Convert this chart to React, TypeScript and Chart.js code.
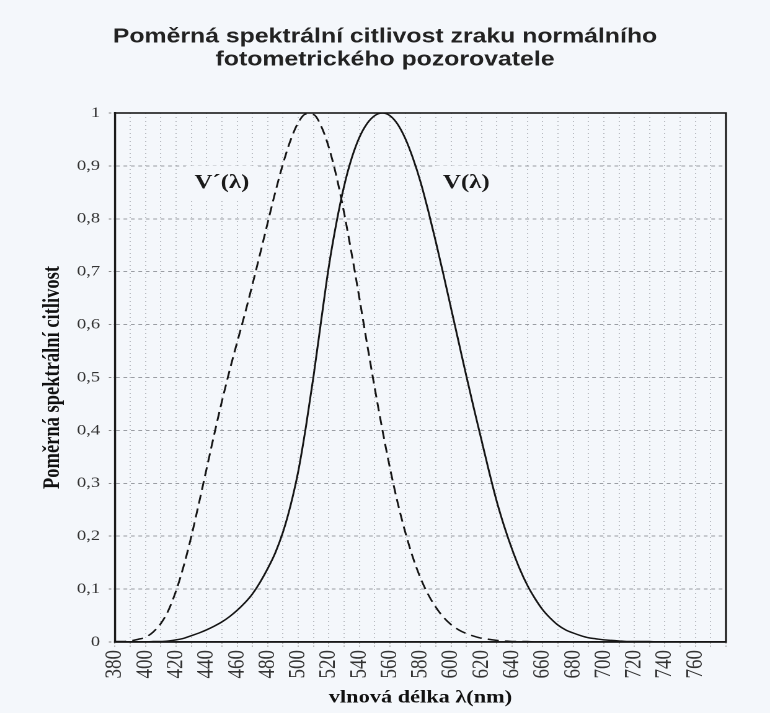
import React, { useEffect, useRef } from 'react';
import { Chart, registerables } from 'chart.js';

Chart.register(...registerables);

// ---- data ----
const titleLines = ['Poměrná spektrální citlivost zraku normálního', 'fotometrického pozorovatele'];
const yAxisTitle = 'Poměrná spektrální citlivost';
const xAxisTitle = 'vlnová délka λ(nm)';
const curveLabels = ['V´(λ)', 'V(λ)'];
const curveLabelPos = [
  { x: 450, y: 0.868 },
  { x: 610, y: 0.868 },
];

const wavelengths = [
  380, 385, 390, 395, 400, 405, 410, 415, 420, 425, 430, 435, 440, 445, 450, 455, 460, 465, 470, 475,
  480, 485, 490, 495, 500, 505, 510, 515, 520, 525, 530, 535, 540, 545, 550, 555, 560, 565, 570, 575,
  580, 585, 590, 595, 600, 605, 610, 615, 620, 625, 630, 635, 640, 645, 650, 655, 660, 665, 670, 675,
  680, 685, 690, 695, 700, 705, 710, 715, 720, 725, 730, 735, 740, 745, 750, 755, 760, 765, 770, 775, 780,
];

// V(λ) – photopic (solid)
const photopicV = [
  0.0, 0.0, 0.0, 0.0, 0.0, 0.001, 0.001, 0.002, 0.004, 0.007, 0.012, 0.017, 0.023, 0.03, 0.038, 0.048, 0.06, 0.074, 0.091, 0.113,
  0.139, 0.169, 0.208, 0.259, 0.323, 0.407, 0.503, 0.608, 0.71, 0.793, 0.862, 0.915, 0.954, 0.98, 0.995, 1.0, 0.995, 0.979, 0.952, 0.915,
  0.87, 0.816, 0.757, 0.695, 0.631, 0.567, 0.503, 0.441, 0.381, 0.321, 0.265, 0.217, 0.175, 0.138, 0.107, 0.082, 0.061, 0.045, 0.032, 0.023,
  0.017, 0.012, 0.008, 0.006, 0.004, 0.003, 0.002, 0.001, 0.001, 0.001, 0.001, 0.0, 0.0, 0.0, 0.0, 0.0, 0.0, 0.0, 0.0, 0.0, 0.0,
];

// V´(λ) – scotopic (dashed)
const scotopicV = [
  0.001, 0.001, 0.002, 0.005, 0.009, 0.019, 0.035, 0.06, 0.097, 0.144, 0.2, 0.263, 0.328, 0.393, 0.455, 0.513, 0.567, 0.62, 0.676, 0.734,
  0.793, 0.851, 0.904, 0.949, 0.982, 0.998, 0.997, 0.975, 0.935, 0.88, 0.811, 0.733, 0.65, 0.564, 0.481, 0.402, 0.329, 0.264, 0.208, 0.16,
  0.121, 0.09, 0.066, 0.047, 0.033, 0.023, 0.016, 0.011, 0.007, 0.005, 0.003, 0.002, 0.001, 0.001, 0.001, 0.0, 0.0, 0.0, 0.0, 0.0,
  0.0, 0.0, 0.0, 0.0, 0.0, 0.0, 0.0, 0.0, 0.0, 0.0, 0.0, 0.0, 0.0, 0.0, 0.0, 0.0, 0.0, 0.0, 0.0, 0.0, 0.0,
];

const xMin = 380;
const xMax = 780;
const xLabelStep = 20;

// The scanned original is stretched horizontally; the canvas is drawn narrower and shown at full width.
const STRETCH = 1.24;
const VIEW_W = 770;
const VIEW_H = 713;
const CANVAS_W = Math.round(VIEW_W / STRETCH);

const BG = '#f4f7fb';
const SERIF = '"Liberation Serif", "Times New Roman", serif';
const SANS = '"Liberation Sans", Arial, sans-serif';

export default function App() {
  const ref = useRef<HTMLCanvasElement>(null);

  useEffect(() => {
    if (!ref.current) return;

    const bgPlugin = {
      id: 'bgFill',
      beforeDraw(chart: any) {
        const { ctx, width, height } = chart;
        ctx.save();
        ctx.fillStyle = BG;
        ctx.fillRect(0, 0, width, height);
        ctx.restore();
      },
    };

    const framePlugin = {
      id: 'frameAndLabels',
      beforeDatasetsDraw(chart: any) {
        const { ctx, chartArea, scales } = chart;
        ctx.save();
        ctx.font = `bold 20px ${SERIF}`;
        ctx.textAlign = 'center';
        ctx.textBaseline = 'middle';
        curveLabels.forEach((txt, i) => {
          const cx = scales.x.getPixelForValue(curveLabelPos[i].x);
          const cy = scales.y.getPixelForValue(curveLabelPos[i].y);
          const w = ctx.measureText(txt).width + 14;
          ctx.fillStyle = BG;
          ctx.fillRect(cx - w / 2, cy - 17, w, 35);
          ctx.fillStyle = '#1a1a1a';
          ctx.fillText(txt, cx, cy);
        });
        ctx.strokeStyle = '#1a1a1a';
        ctx.lineWidth = 1.6;
        ctx.strokeRect(chartArea.left, chartArea.top, chartArea.right - chartArea.left, chartArea.bottom - chartArea.top);
        ctx.restore();
      },
    };

    const plotLeft = 115 / STRETCH;
    const plotRight = 726 / STRETCH;

    const chart = new Chart(ref.current, {
      type: 'line',
      data: {
        datasets: [
          {
            label: 'V(λ)',
            data: wavelengths.map((w, i) => ({ x: w, y: photopicV[i] })),
            borderColor: '#151515',
            borderWidth: 1.5,
            pointRadius: 0,
            cubicInterpolationMode: 'monotone',
            fill: false,
          },
          {
            label: 'V´(λ)',
            data: wavelengths.map((w, i) => ({ x: w, y: scotopicV[i] })),
            borderColor: '#151515',
            borderWidth: 1.5,
            borderDash: [9, 5],
            pointRadius: 0,
            cubicInterpolationMode: 'monotone',
            fill: false,
          },
        ],
      },
      options: {
        responsive: false,
        animation: false,
        devicePixelRatio: 2,
        layout: { padding: 0 },
        plugins: {
          legend: { display: false },
          tooltip: { enabled: false },
          title: {
            display: true,
            text: titleLines,
            color: '#222',
            font: { family: SANS, size: 20, weight: 'bold', lineHeight: 1.15 },
            padding: { top: 25.5, bottom: 41.5 },
          },
        },
        scales: {
          x: {
            type: 'linear',
            min: xMin,
            max: xMax,
            afterFit(scale: any) {
              scale.height = 71;
            },
            ticks: {
              stepSize: 10,
              autoSkip: false,
              minRotation: 90,
              maxRotation: 90,
              padding: 3,
              color: '#333',
              font: { family: SERIF, size: 19 },
              callback: (v: any) => (v % xLabelStep === 0 && v !== xMax ? String(v) : ''),
            },
            grid: {
              color: '#b9bcc2',
              lineWidth: 1,
              tickLength: 5,
              tickColor: '#999',
              tickBorderDash: [1, 2],
            },
            border: { display: true, color: '#1a1a1a', width: 1.6, dash: [1, 3] },
            title: {
              display: true,
              text: xAxisTitle,
              color: '#111',
              font: { family: SERIF, size: 18, weight: 'bold', lineHeight: 1 },
              padding: { top: 0, bottom: 6 },
            },
          },
          y: {
            type: 'linear',
            min: 0,
            max: 1,
            afterFit(scale: any) {
              scale.width = plotLeft;
            },
            ticks: {
              stepSize: 0.1,
              padding: 7,
              color: '#333',
              font: { family: SERIF, size: 15 },
              callback: (v: any) => {
                const r = Math.round(v * 10) / 10;
                if (r === 0) return '0';
                if (r === 1) return '1';
                return r.toFixed(1).replace('.', ',');
              },
            },
            grid: {
              color: '#9a9da3',
              lineWidth: 1,
              tickLength: 5,
              tickColor: '#888',
              tickBorderDash: [2, 2],
            },
            border: { display: true, color: '#1a1a1a', width: 1.6, dash: [3, 3] },
            title: {
              display: true,
              text: yAxisTitle,
              color: '#111',
              font: { family: SERIF, size: 18.5, weight: 'bold', lineHeight: 1 },
              padding: { top: 53 / STRETCH - 9.25, bottom: 0 },
            },
          },
          // empty right-hand spacer axis so the title stays centred on the whole canvas
          yRight: {
            type: 'linear',
            position: 'right',
            display: true,
            min: 0,
            max: 1,
            afterFit(scale: any) {
              scale.width = CANVAS_W - plotRight;
            },
            ticks: { display: false },
            grid: { display: false, drawOnChartArea: false },
            border: { display: false },
            title: { display: false },
          },
        },
      },
      plugins: [bgPlugin, framePlugin],
    } as any);

    return () => chart.destroy();
  }, []);

  return (
    <div style={{ position: 'absolute', left: 0, top: 0, width: VIEW_W, height: VIEW_H, background: BG }}>
      <canvas
        ref={ref}
        width={CANVAS_W}
        height={VIEW_H}
        style={{ display: 'block', width: `${VIEW_W}px`, height: `${VIEW_H}px` }}
      />
    </div>
  );
}
